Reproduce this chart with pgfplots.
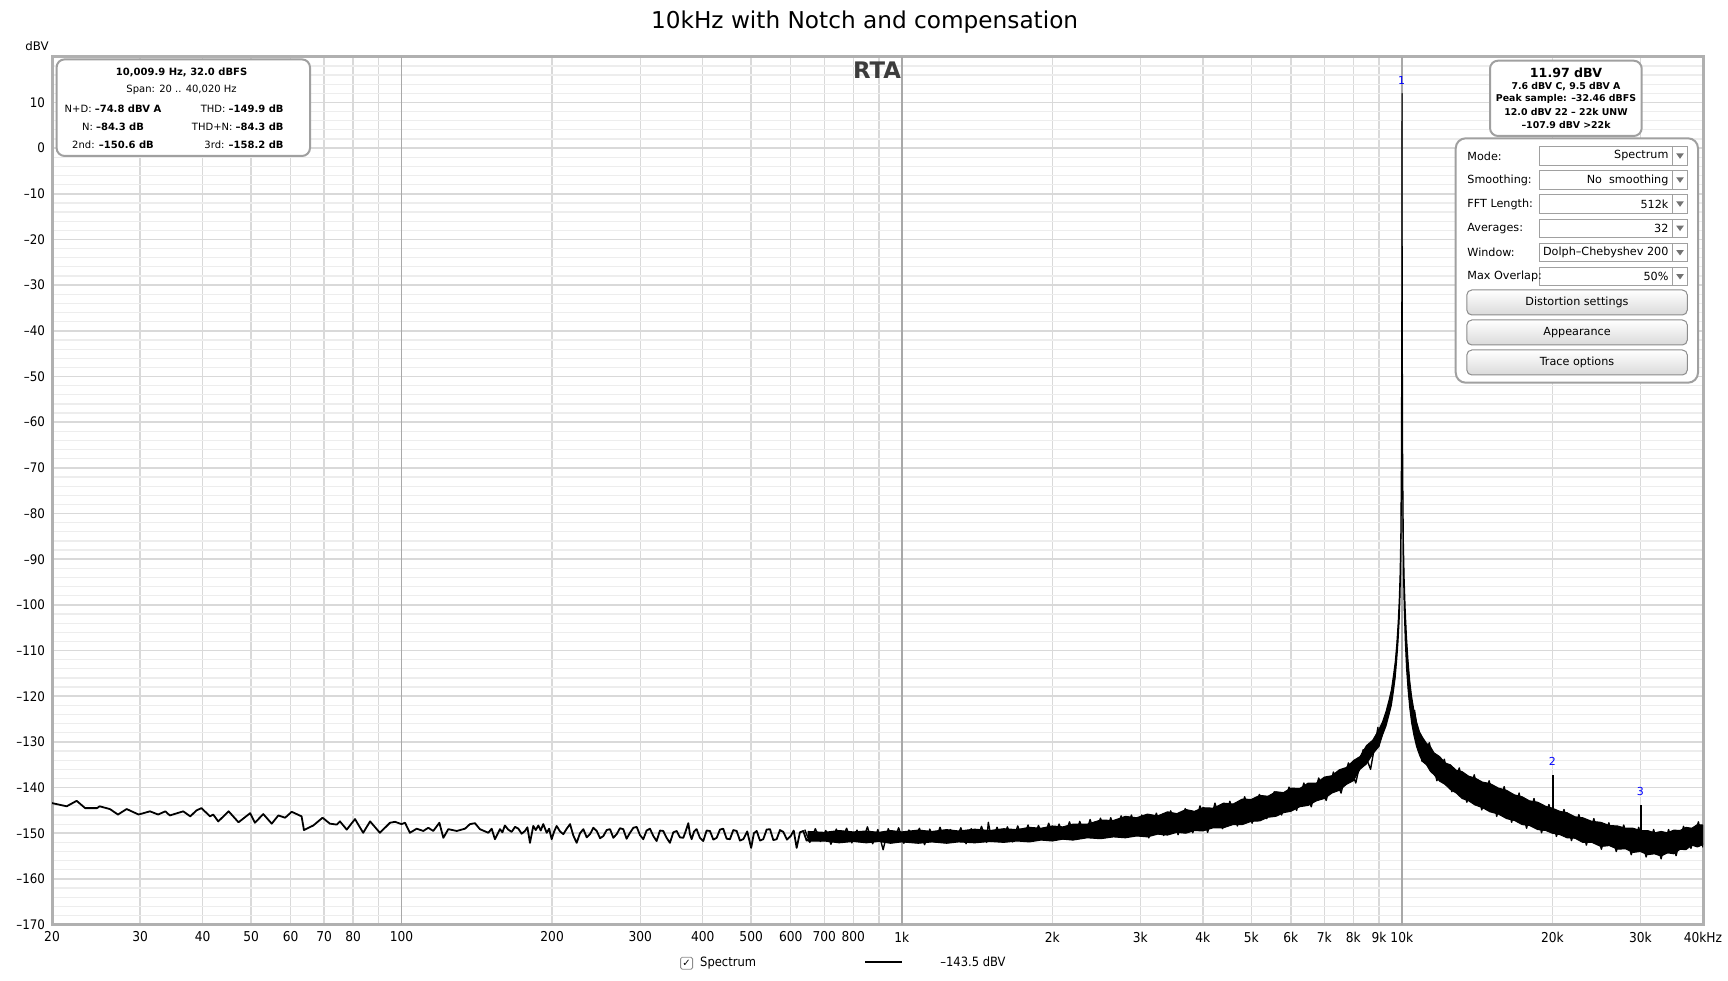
\documentclass[border=0pt]{standalone}
\usepackage{fontspec}
\setmainfont{DejaVu Sans}
\newfontfamily\condf{DejaVu Sans Condensed}
\usepackage{pgfplots}
\pgfplotsset{compat=1.18}
\definecolor{gridmaj}{HTML}{D9D9D9}
\definecolor{gridmin}{HTML}{EDEDED}
\definecolor{decgray}{HTML}{A8A8A8}
\definecolor{framegray}{HTML}{B0B0B0}
\definecolor{boxgray}{HTML}{A0A0A0}
\definecolor{btngray}{HTML}{DADADA}
\definecolor{rtagray}{HTML}{3C3C3C}
\newcommand{\fs}[1]{\fontsize{#1}{#1}\selectfont}
\begin{document}
\begin{tikzpicture}
\path[use as bounding box] (0,0) rectangle (864pt,490pt);
\begin{axis}[
  at={(26pt,27.7pt)}, anchor=south west, scale only axis,
  width=825.5pt, height=433.9pt,
  xmode=log, xmin=20, xmax=40020, ymin=-170, ymax=20,
  xtick={20,30,40,50,60,70,80,90,200,300,400,500,600,700,800,900,2000,3000,4000,5000,6000,7000,8000,9000,20000,30000,40000},
  xticklabels={20,30,40,50,60,70,80,,200,300,400,500,600,700,800,,2k,3k,4k,5k,6k,7k,8k,9k,20k,30k,40kHz},
  extra x ticks={100,1000,10000},
  extra x tick labels={100,1k,10k},
  extra x tick style={grid=major, major x grid style={draw=decgray, line width=0.8pt}, major grid style={draw=decgray, line width=0.8pt}},
  ytick={-170,-160,-150,-140,-130,-120,-110,-100,-90,-80,-70,-60,-50,-40,-30,-20,-10,0,10},
  yticklabels={–170,–160,–150,–140,–130,–120,–110,–100,–90,–80,–70,–60,–50,–40,–30,–20,–10,0,10},
  minor ytick={-168,-166,...,18},
  xmajorgrids, ymajorgrids, yminorgrids,
  major x grid style={draw=gridmaj, line width=0.7pt},
  major y grid style={draw=gridmaj, line width=0.8pt},
  minor y grid style={draw=gridmin, line width=0.6pt},
  major tick length=0pt, minor tick length=0pt,
  tick style={draw=none},
  axis line style={draw=framegray, line width=1.5pt},
  xticklabel style={font=\condf\fs{6.8}},
  yticklabel style={font=\condf\fs{6.6}},
  no markers,
]
% low-frequency part of the trace
\addplot[black, line width=0.9pt, line join=round] coordinates {
(20,-143.4) (21.4,-144.1) (22.4,-142.9) (23.3,-144.5) (24.6,-144.5) (24.9,-144.1)
(26.1,-144.7) (27.1,-145.9) (28.2,-144.7) (29.8,-145.9) (31.4,-145.2) (32.6,-145.9)
(33.7,-145.2) (34.4,-146.1) (36.6,-145.2) (37.8,-146.3) (38.9,-145.0) (39.8,-144.5)
(41.4,-146.3) (42.0,-145.9) (43.0,-147.4) (45.1,-145.2) (47.2,-147.6) (49.8,-145.6)
(50.9,-147.7) (52.9,-145.8) (55.0,-147.9) (56.7,-146.1) (58.5,-146.6) (60.3,-145.3)
(63.1,-146.3) (63.8,-149.3) (66.6,-148.3) (69.5,-146.6) (71.9,-147.9) (74.2,-148.1)
(75.3,-147.4) (77.7,-149.2) (80.7,-146.9) (83.8,-149.9) (86.5,-147.4) (90.5,-149.9)
(94.8,-147.7) (97.0,-147.5) (100,-148.0) (101.6,-147.7) (103.9,-149.9) (107.2,-149.0)
(110.5,-149.5) (113.1,-148.8) (115.7,-149.5) (119.0,-147.7) (121.2,-151.0) (124.0,-149.1)
(128.9,-149.5) (133.9,-149.0) (137.0,-148.0) (140.2,-147.8) (143.4,-149.1)
(149.1,-149.9) (151.4,-149.0) (153.7,-151.3) (155.5,-150.2) (157.3,-149.1) (159.1,-149.8)
(160.9,-148.3) (163.4,-149.2) (166.0,-149.7) (168.6,-148.6) (171.2,-149.0) (173.8,-150.1)
(176.5,-149.5) (178.5,-148.7) (180.6,-152.1) (183.4,-148.4) (185.5,-149.3) (187.7,-148.3)
(189.8,-149.4) (192.0,-148.0) (195.1,-149.9) (197.3,-149.0) (199.6,-151.3) (201.9,-149.6)
(204.2,-148.4) (207.4,-149.6) (210.6,-150.2) (213.9,-149.0) (217.2,-148.0) (220.5,-150.5)
(223.9,-152.1) (227.4,-150.0) (230.9,-149.1) (234.5,-150.9) (238.1,-150.2) (241.8,-148.8)
(245.6,-149.5) (249.4,-151.1) (253.2,-150.6) (257.1,-149.3) (261.1,-149.1) (265.1,-151.0)
(269.2,-150.2) (273.3,-148.9) (277.5,-149.1) (281.8,-151.2) (286.2,-149.9) (290.7,-148.8)
(295.2,-148.6) (299.7,-150.4) (304.3,-151.3) (309.0,-149.4) (313.8,-149.0) (318.7,-150.6)
(323.6,-151.7) (328.6,-149.4) (333.6,-149.5) (338.8,-151.0) (344.0,-152.1) (349.4,-149.8)
(354.8,-149.5) (360.3,-150.9) (365.8,-151.0) (370.1,-149.5) (374.4,-147.8) (377.3,-150.2)
(380.2,-151.3) (384.6,-149.6) (389.0,-149.1) (395.0,-151.0) (401.1,-151.7) (407.3,-149.4)
(413.6,-149.5) (420.1,-151.4) (426.6,-151.0) (433.1,-149.2) (439.7,-149.0) (446.6,-151.2)
(453.5,-151.3) (460.5,-149.3) (467.7,-149.5) (474.9,-151.6) (482.2,-151.3) (491.0,-149.6)
(500,-153.2) (506.4,-150.0) (512.9,-149.5) (520.8,-151.6) (528.7,-151.3) (537.0,-149.2)
(545.3,-149.1) (553.8,-151.5) (562.3,-151.3) (571.0,-149.3) (579.7,-149.7) (589.8,-151.4)
(600,-150.6) (608.3,-149.4) (616.6,-153.2) (626.0,-149.8) (635.6,-149.5) (645.5,-151.6)
(655.4,-151.3)
};
% dense noise zig-zag, 640 Hz to 9 kHz
\addplot[black, line width=0.7pt, line join=round] coordinates {
(640,-149.2) (655,-152.0) (672,-149.0) (688,-151.8) (705,-149.4) (722,-152.4) (740,-149.1)
(758,-151.6) (776,-148.9) (795,-152.1) (814,-149.3) (834,-151.9) (854,-148.6) (875,-152.3)
(896,-149.2) (918,-153.6) (940,-149.0) (963,-151.8) (986,-148.8) (1010,-152.2) (1034,-149.3)
(1059,-151.7) (1085,-148.9) (1111,-152.5) (1138,-149.1) (1165,-151.9) (1193,-148.7)
(1222,-152.0) (1252,-149.2) (1282,-151.6) (1313,-148.8) (1345,-152.3) (1377,-149.0)
(1410,-151.7) (1444,-148.5) (1479,-152.0) (1490,-147.6) (1515,-151.8) (1551,-148.7)
(1589,-151.5) (1627,-148.6) (1666,-151.9) (1706,-148.4) (1747,-151.4) (1789,-148.2)
(1832,-151.7) (1877,-148.3) (1922,-151.2) (1968,-147.8) (2016,-151.5) (2064,-148.0)
(2114,-150.9) (2165,-147.5) (2217,-151.1) (2270,-147.4) (2325,-150.6) (2381,-147.0)
(2438,-150.8) (2497,-146.7) (2557,-150.2) (2618,-146.6) (2681,-150.4) (2746,-146.2)
(2812,-149.8) (2880,-146.0) (2949,-150.1)
(3020,-146.0) (3120,-151.0) (3230,-145.6) (3340,-150.5) (3450,-145.1) (3570,-150.3)
(3690,-144.6) (3820,-149.9) (3950,-144.0) (4090,-149.8) (4230,-143.4) (4380,-149.0)
(4530,-143.0) (4690,-148.4) (4850,-142.0) (5020,-147.8) (5190,-141.5) (5370,-146.8)
(5560,-140.9) (5750,-146.0) (5950,-139.9) (6160,-145.0) (6370,-139.0) (6590,-144.2)
(6820,-137.9) (7060,-142.8) (7300,-136.6) (7560,-141.2) (7820,-134.6) (8090,-139.0)
(8370,-131.7) (8660,-136.0) (8960,-126.8) (9000,-131.0)
};
% dense noise zig-zag above 10.5 kHz
\addplot[black, line width=0.7pt, line join=round] coordinates {
(10600,-123.0) (10970,-134.2) (11350,-130.2) (11750,-138.5) (12160,-133.8) (12590,-140.9)
(13030,-135.7) (13490,-143.2) (13960,-137.2) (14450,-144.9) (14950,-138.5) (15480,-146.3)
(16020,-139.8) (16580,-147.6) (17160,-141.2) (17760,-148.9) (18380,-142.4) (19030,-149.9)
(19690,-143.7) (20380,-150.7) (21100,-144.8) (21840,-151.6) (22600,-145.9) (23390,-152.6)
(24210,-146.8) (25060,-153.5) (25940,-147.7) (26840,-154.0) (27780,-148.2) (28760,-154.7)
(29760,-148.7) (30800,-155.2) (31880,-149.2) (33000,-155.6) (34150,-149.2) (35350,-154.9)
(36590,-148.5) (37870,-153.3) (39190,-147.5) (40020,-153.1)
};
% dense noise band and the fundamental (upper edge, then lower edge back)
\addplot[fill=black, draw=black, line width=0.5pt, line join=round] coordinates {
(650,-149.6) (700,-149.8) (750,-149.4) (800,-149.7) (850,-149.5) (900,-149.8) (950,-149.4)
(1000,-149.7) (1080,-149.3) (1150,-149.6) (1230,-149.2) (1300,-149.5) (1400,-149.1)
(1500,-149.4) (1600,-149.0) (1700,-149.2) (1800,-148.7) (1900,-148.9) (2000,-148.4)
(2100,-148.6) (2200,-148.0) (2350,-148.0) (2500,-147.1) (2650,-147.2) (2800,-146.3)
(2950,-146.6) (3100,-145.8) (3250,-146.2) (3400,-145.3) (3550,-145.7) (3700,-144.8)
(3850,-145.2) (4000,-144.4) (4200,-144.5) (4400,-143.4) (4600,-143.6) (4800,-142.5)
(5000,-142.6) (5200,-141.7) (5400,-141.9) (5600,-140.9) (5800,-141.1) (6000,-140.1)
(6250,-140.2) (6500,-139.0) (6750,-139.0) (7000,-137.7) (7250,-137.4) (7500,-136.1)
(7750,-135.6) (8000,-134.1) (8250,-133.2) (8500,-130.8) (8750,-129.6) (9000,-127.3)
(9150,-125.6) (9300,-123.3) (9420,-121.0) (9530,-118.6) (9620,-115.5) (9700,-112.5)
(9770,-108.5) (9830,-104.0) (9880,-99.0) (9920,-93.0) (9950,-85.0) (9975,-70.0)
(9995,-40.0) (10005,-5.0) (10010,11.97) (10015,-5.0) (10025,-40.0) (10045,-70.0)
(10075,-86.0) (10110,-94.0) (10160,-101.0) (10220,-107.0) (10290,-112.0) (10370,-116.5)
(10460,-120.0) (10570,-123.0) (10700,-125.6) (10850,-127.8) (11000,-129.0) (11200,-130.3)
(11400,-131.0) (11600,-132.4) (11900,-133.2) (12200,-134.6) (12500,-135.0) (12850,-136.2)
(13200,-136.5) (13600,-137.5) (14000,-137.9) (14500,-138.8) (15000,-139.1) (15600,-140.1)
(16200,-140.6) (16800,-141.6) (17400,-142.0) (18000,-142.9) (18700,-143.2) (19400,-144.1)
(20000,-144.5) (20700,-145.2) (21400,-145.5) (22200,-146.4) (23000,-146.6) (24000,-147.4)
(25000,-147.6) (26000,-148.3) (27000,-148.4) (28000,-148.9) (29000,-148.9) (30000,-149.4)
(31000,-149.4) (32000,-149.9) (33000,-149.6) (34000,-149.9) (35000,-149.3) (36000,-149.4)
(37000,-148.7) (38000,-148.9) (39000,-148.1) (40020,-148.2)
(40020,-152.5) (39000,-153.0) (38000,-152.6) (37000,-153.6) (36000,-153.5) (35000,-154.5)
(34000,-154.3) (33000,-155.0) (32000,-154.5) (31000,-154.7) (30000,-154.0) (29000,-154.2)
(28000,-153.4) (27000,-153.5) (26000,-152.7) (25000,-152.9) (24000,-152.0) (23000,-152.0)
(22200,-151.1) (21400,-151.0) (20700,-150.3) (20000,-150.0) (19400,-149.4) (18700,-149.2)
(18000,-148.3) (17400,-148.1) (16800,-147.2) (16200,-146.8) (15600,-145.8) (15000,-145.3)
(14500,-144.4) (14000,-143.8) (13600,-142.9) (13200,-142.4) (12850,-141.2) (12500,-140.4)
(12200,-139.3) (11900,-138.6) (11600,-137.2) (11400,-136.4) (11200,-135.0) (11000,-134.3)
(10850,-132.9) (10700,-131.0) (10570,-128.5) (10460,-125.8) (10370,-122.5) (10290,-118.5)
(10220,-114.0) (10160,-108.0) (10110,-101.0) (10075,-93.0) (10045,-80.0) (10025,-50.0)
(10015,-10.0) (10005,-10.0) (9995,-50.0) (9975,-80.0) (9950,-91.0) (9920,-98.0)
(9880,-103.5) (9830,-108.0) (9770,-112.0) (9700,-116.0) (9620,-119.0) (9530,-122.0)
(9420,-124.2) (9300,-126.5) (9150,-128.5) (9000,-131.0) (8750,-132.6) (8500,-134.8)
(8250,-136.0) (8000,-138.5) (7750,-139.3) (7500,-140.6) (7250,-141.2) (7000,-142.4)
(6750,-142.9) (6500,-143.9) (6250,-144.2) (6000,-145.2) (5800,-145.5) (5600,-146.3)
(5400,-146.5) (5200,-147.3) (5000,-147.4) (4800,-148.1) (4600,-148.1) (4400,-148.8)
(4200,-148.8) (4000,-149.5) (3850,-149.4) (3700,-150.0) (3550,-149.8) (3400,-150.4)
(3250,-150.2) (3100,-150.8) (2950,-150.6) (2800,-151.0) (2650,-150.8) (2500,-151.2)
(2350,-151.0) (2200,-151.5) (2100,-151.3) (2000,-151.7) (1900,-151.5) (1800,-151.9)
(1700,-151.7) (1600,-152.0) (1500,-151.8) (1400,-152.1) (1300,-151.9) (1230,-152.2)
(1150,-151.9) (1080,-152.2) (1000,-151.9) (950,-152.2) (900,-151.8) (850,-152.1)
(800,-151.8) (750,-152.1) (700,-151.7) (650,-151.7)
} -- cycle;
% harmonics
\addplot[black, line width=1pt] coordinates {(20020,-146.5) (20020,-137.3)};
\addplot[black, line width=1pt] coordinates {(30030,-151.0) (30030,-143.8)};
\end{axis}

% title and labels
\node[font=\fs{11.6}] at (432.3pt,478.8pt) {10kHz with Notch and compensation};
\node[font=\fs{11.4}\bfseries, text=rtagray] at (438.5pt,454.75pt) {RTA};
\node[font=\fs{5.9}] at (18.5pt,466.9pt) {dBV};
\node[font=\fs{5.5}, text=blue, inner sep=0] at (700.85pt,450pt) {1};
\node[font=\fs{5.5}, text=blue, inner sep=0] at (776.15pt,109.15pt) {2};
\node[font=\fs{5.5}, text=blue, inner sep=0] at (820.15pt,94.15pt) {3};

% top-left info box
\draw[draw=boxgray, line width=1pt, fill=white, rounded corners=4pt] (28.3pt,412pt) rectangle (155pt,460.3pt);
\begin{scope}[every node/.style={inner sep=0pt, font=\fs{5}}]
\node[font=\fs{5}\bfseries] at (90.8pt,453.85pt) {10,009.9 Hz, 32.0 dBFS};
\node at (90.8pt,445pt) {Span: 20 .. 40,020 Hz};
\node at (56.5pt,435.85pt) {N+D: \textbf{–74.8 dBV A}};
\node at (56.5pt,426.65pt) {N: \textbf{–84.3 dB}};
\node at (56.5pt,417.85pt) {2nd: \textbf{–150.6 dB}};
\node[anchor=east] at (142pt,435.85pt) {THD: \textbf{–149.9 dB}};
\node[anchor=east] at (142pt,426.65pt) {THD+N: \textbf{–84.3 dB}};
\node[anchor=east] at (142pt,417.85pt) {3rd: \textbf{–158.2 dB}};
\end{scope}

% top-right level box
\draw[draw=boxgray, line width=1pt, fill=white, rounded corners=4pt] (745pt,422pt) rectangle (820.85pt,459.65pt);
\begin{scope}[every node/.style={inner sep=0pt, font=\fs{4.7}\bfseries}]
\node[font=\fs{6.3}\bfseries] at (783pt,453.65pt) {11.97 dBV};
\node at (783pt,446.65pt) {7.6 dBV C, 9.5 dBV A};
\node at (783pt,440.35pt) {Peak sample: –32.46 dBFS};
\node at (783pt,433.85pt) {12.0 dBV 22 – 22k UNW};
\node at (783pt,427.5pt) {–107.9 dBV >22k};
\end{scope}

% settings panel
\draw[draw=boxgray, line width=1pt, fill=white, rounded corners=5pt] (727.85pt,298.65pt) rectangle (849pt,420.85pt);
\foreach \yy/\lab/\val in {412/Mode:/Spectrum, 400/Smoothing:/No\ \ smoothing, 388/FFT Length:/512k, 375.85/Averages:/32, 363.65/Window:/Dolph–Chebyshev 200, 351.65/Max Overlap:/50\%}{
  \draw[draw=boxgray, line width=0.4pt, fill=white] (769.65pt,\yy pt-4.6pt) rectangle (843.65pt,\yy pt+4.6pt);
  \draw[draw=boxgray, line width=0.4pt] (836.35pt,\yy pt-4.6pt) -- (836.35pt,\yy pt+4.6pt);
  \fill[black!55] (838.1pt,\yy pt+1.3pt) -- (841.9pt,\yy pt+1.3pt) -- (840pt,\yy pt-1.4pt) -- cycle;
  \node[anchor=west, inner sep=0pt, font=\fs{5.6}] at (733.5pt,\yy pt) {\lab};
  \node[anchor=east, inner sep=0pt, font=\fs{5.6}] at (834.4pt,\yy pt) {\val};
}
\foreach \ya/\yb/\lab in {332.5/345/Distortion settings, 317.5/330/Appearance, 302.5/315/Trace options}{
  \draw[draw=black!45, line width=0.5pt, top color=white, bottom color=btngray, rounded corners=2.5pt] (733.4pt,\ya pt) rectangle (843.65pt,\yb pt);
  \node[inner sep=0pt, font=\fs{5.6}] at (788.5pt,{(\ya+\yb)/2*1pt}) {\lab};
}

% bottom legend
\draw[draw=black!45, line width=0.4pt, rounded corners=0.8pt, fill=white] (340.3pt,5.4pt) rectangle (346.3pt,11.4pt);
\node[inner sep=0pt, font=\fs{5}] at (343.3pt,8.4pt) {✓};
\node[anchor=west, inner sep=0pt, font=\condf\fs{6.4}] at (349.9pt,8.4pt) {Spectrum};
\draw[black, line width=1pt] (432.5pt,9pt) -- (450.75pt,9pt);
\node[anchor=west, inner sep=0pt, font=\condf\fs{6.4}] at (470pt,9pt) {–143.5 dBV};
\end{tikzpicture}
\end{document}
